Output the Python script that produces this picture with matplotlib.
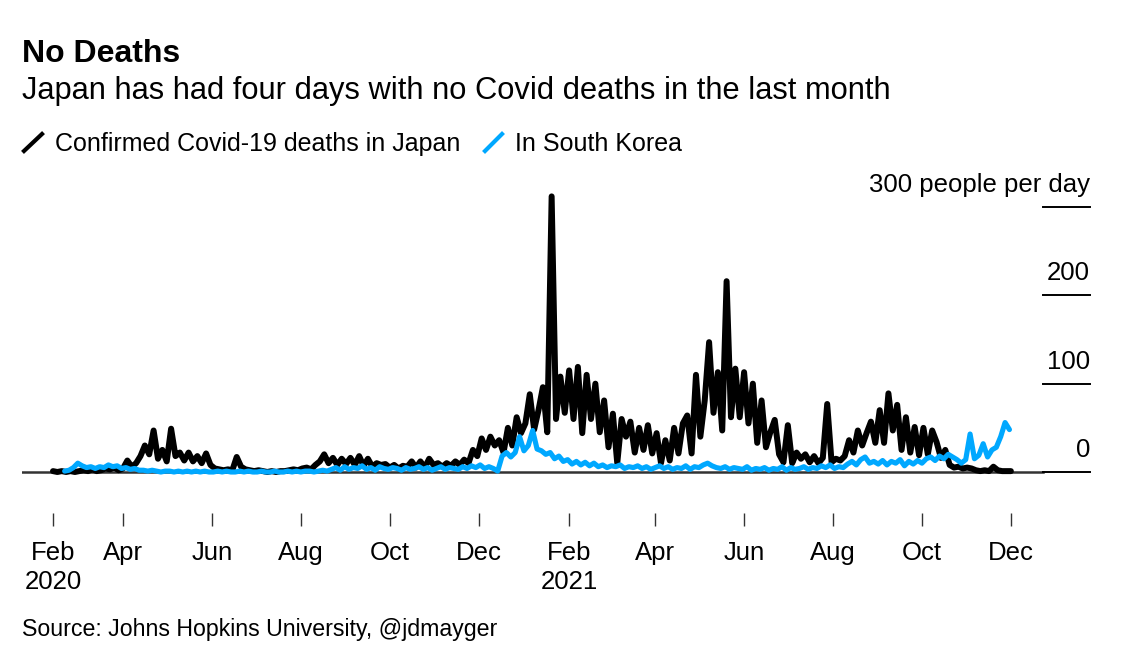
import matplotlib
matplotlib.use("Agg")
import matplotlib.pyplot as plt
import pandas as pd
from matplotlib.lines import Line2D

# ---------------- data (3-day samples) ----------------
japan_start = "2020-02-13"
korea_start = "2020-02-21"
step_days = 3

japan_deaths = [
    1, 0, 1, 0, 1, 0, 1, 2, 1, 3,
    1, 2, 4, 3, 5, 2, 4, 13, 6, 10,
    18, 30, 20, 47, 15, 25, 12, 49, 18, 22,
    13, 22, 12, 18, 10, 21, 8, 4, 3, 2,
    3, 2, 17, 6, 3, 2, 1, 2, 1, 0,
    1, 0, 1, 1, 2, 3, 2, 4, 5, 3,
    8, 12, 20, 10, 16, 8, 15, 9, 16, 8,
    18, 7, 15, 6, 10, 8, 9, 5, 8, 4,
    7, 6, 12, 5, 12, 5, 15, 8, 10, 6,
    10, 7, 12, 8, 14, 10, 25, 18, 38, 25,
    40, 30, 36, 22, 50, 30, 62, 44, 55, 88,
    48, 70, 96, 45, 312, 60, 108, 67, 115, 60,
    119, 44, 110, 60, 100, 45, 81, 28, 66, 10,
    60, 40, 57, 22, 50, 25, 53, 21, 44, 10,
    36, 13, 50, 21, 55, 64, 21, 110, 40, 81,
    147, 67, 113, 47, 216, 62, 117, 62, 113, 55,
    100, 33, 81, 28, 45, 59, 20, 11, 53, 10,
    22, 15, 20, 11, 18, 10, 16, 77, 11, 15,
    13, 18, 36, 22, 47, 30, 44, 57, 33, 70,
    33, 89, 47, 76, 25, 62, 22, 51, 19, 50,
    20, 47, 34, 16, 25, 8, 5, 6, 4, 5,
    4, 2, 1, 2, 1, 6, 2, 1, 1, 1,
]

korea_deaths = [
    1, 2, 5, 10, 7, 5, 6, 4, 6, 5,
    8, 6, 7, 4, 5, 3, 4, 2, 2, 1,
    2, 1, 0, 1, 1, 0, 1, 0, 1, 0,
    1, 0, 1, 0, 0, 1, 0, 1, 0, 0,
    1, 0, 1, 0, 0, 1, 0, 0, 1, 0,
    0, 1, 0, 1, 0, 1, 1, 0, 1, 2,
    1, 3, 5, 2, 6, 3, 5, 4, 7, 3,
    5, 2, 6, 4, 3, 5, 4, 2, 5, 3,
    4, 6, 3, 5, 2, 4, 6, 3, 5, 4,
    3, 6, 4, 7, 5, 8, 4, 6, 4, 1,
    18, 22, 17, 22, 40, 24, 30, 47, 26, 24,
    20, 22, 15, 18, 12, 14, 9, 12, 8, 11,
    7, 10, 6, 8, 5, 7, 6, 8, 4, 6,
    5, 7, 4, 6, 3, 5, 7, 4, 6, 3,
    5, 4, 7, 3, 6, 5, 8, 10, 7, 5,
    4, 6, 3, 5, 4, 3, 6, 2, 4, 3,
    5, 2, 4, 3, 6, 2, 5, 3, 4, 6,
    3, 5, 4, 7, 5, 8, 4, 6, 5, 9,
    12, 8, 14, 17, 10, 12, 9, 13, 8, 12,
    10, 14, 7, 12, 9, 13, 10, 15, 17, 13,
    18, 15, 20, 17, 14, 10, 14, 43, 15, 19,
    32, 17, 25, 28, 40, 56, 48,
]

tick_dates = ["2020-02-13", "2020-04-01", "2020-06-01", "2020-08-01", "2020-10-01",
              "2020-12-01", "2021-02-01", "2021-04-01", "2021-06-01", "2021-08-01",
              "2021-10-01", "2021-12-01"]
tick_labels = ["Feb\n2020", "Apr", "Jun", "Aug", "Oct", "Dec",
               "Feb\n2021", "Apr", "Jun", "Aug", "Oct", "Dec"]
y_ticks = [0, 100, 200, 300]
y_tick_labels = ["0", "100", "200", "300 people per day"]

title = "No Deaths"
subtitle = "Japan has had four days with no Covid deaths in the last month"
legend_labels = ["Confirmed Covid-19 deaths in Japan", "In South Korea"]
source = "Source: Johns Hopkins University, @jdmayger"

JP_COLOR = "#000000"
KR_COLOR = "#00a8ff"

# ---------------- figure ----------------
W, H = 1129, 672
plt.rcParams["font.family"] = ["Liberation Sans", "DejaVu Sans"]
fig = plt.figure(figsize=(W / 100, H / 100), dpi=100)


def fx(px):
    return px / W


def fy(py):
    return 1 - py / H


PX_PER_DAY = 1.458
Y_PX = 265 / 300
t0 = pd.Timestamp(japan_start)
xmin = t0 - pd.Timedelta(days=(53 - 22) / PX_PER_DAY)
xmax = t0 + pd.Timedelta(days=(1092 - 53) / PX_PER_DAY)
ymin, ymax = -10, 320
ax_bottom_px = 472 - ymin * Y_PX
ax_h_px = (ymax - ymin) * Y_PX
ax = fig.add_axes([fx(22), (H - ax_bottom_px) / H, 1070 / W, ax_h_px / H])
ax.set_xlim(xmin, xmax)
ax.set_ylim(ymin, ymax)

dates_jp = pd.date_range(japan_start, periods=len(japan_deaths), freq=f"{step_days}D")
dates_kr = pd.date_range(korea_start, periods=len(korea_deaths), freq=f"{step_days}D")

ax.plot(dates_jp, japan_deaths, color=JP_COLOR, lw=4.3, solid_joinstyle="round",
        solid_capstyle="round", zorder=3)
ax.plot(dates_kr, korea_deaths, color=KR_COLOR, lw=3.7, solid_joinstyle="round",
        solid_capstyle="round", zorder=4)

# baseline and right-hand gridline stubs
x_stub0 = (1043 - 22) / 1070
x_stub1 = (1090 - 22) / 1070
ax.axhline(0, xmin=0, xmax=x_stub0, color="#333333", lw=1.8, zorder=2)
for v, lab in zip(y_ticks, y_tick_labels):
    ax.axhline(v, xmin=x_stub0, xmax=x_stub1, color="black", lw=1.4, zorder=2)
    ax.annotate(lab, xy=(x_stub1, v), xycoords=("axes fraction", "data"),
                xytext=(0, 15 * 0.72), textcoords="offset points",
                ha="right", va="baseline", fontsize=18.5, color="black")

for s in ["top", "right", "left"]:
    ax.spines[s].set_visible(False)
ax.spines["bottom"].set_position(("outward", 32 * 0.72))
ax.spines["bottom"].set_visible(False)
ax.set_yticks([])
ax.set_xticks([pd.Timestamp(d) for d in tick_dates])
ax.set_xticklabels(tick_labels, linespacing=1.25)
ax.tick_params(axis="x", length=13 * 0.72, width=1.0, color="#333333",
               pad=11, labelsize=18.5, direction="out")
ax.patch.set_alpha(0)

# ---------------- texts ----------------
fig.text(fx(22), fy(62), title, fontsize=23, fontweight="bold", va="baseline")
fig.text(fx(22), fy(99), subtitle, fontsize=22.2, va="baseline")

fig.add_artist(Line2D([fx(24), fx(42)], [fy(151), fy(134)], color=JP_COLOR, lw=3,
                      transform=fig.transFigure))
fig.text(fx(55), fy(151), legend_labels[0], fontsize=18, va="baseline")
fig.add_artist(Line2D([fx(485), fx(502)], [fy(151), fy(134)], color=KR_COLOR, lw=3,
                      transform=fig.transFigure))
fig.text(fx(515), fy(151), legend_labels[1], fontsize=18, va="baseline")

fig.text(fx(22), fy(636), source, fontsize=16.7, va="baseline")

fig.savefig("out.png", dpi=100, facecolor="white")
